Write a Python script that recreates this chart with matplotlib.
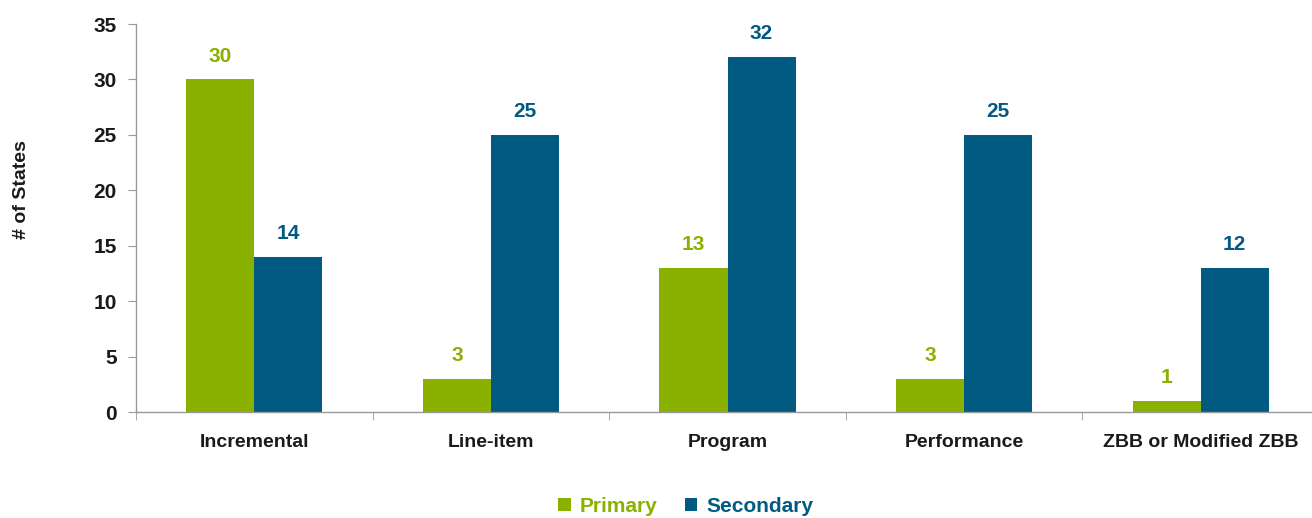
import matplotlib
matplotlib.use("Agg")
import matplotlib.pyplot as plt
from matplotlib import font_manager
import numpy as np

categories = ["Incremental", "Line-item", "Program", "Performance", "ZBB or Modified ZBB"]
primary = [30, 3, 13, 3, 1]
secondary = [14, 25, 32, 25, 13]
primary_labels = ["30", "3", "13", "3", "1"]
secondary_labels = ["14", "25", "32", "25", "12"]
yticks = [0, 5, 10, 15, 20, 25, 30, 35]

names = {f.name for f in font_manager.fontManager.ttflist}
fam = [n for n in ["Liberation Sans Narrow", "Liberation Sans", "DejaVu Sans"] if n in names]
plt.rcParams['font.family'] = fam
plt.rcParams['font.weight'] = 'bold'

GREEN = "#8AB000"
BLUE = "#005A82"
TXT = "#1a1a1a"

fig = plt.figure(figsize=(13.12, 5.18), dpi=100)
ax = fig.add_axes([136/1312, 1-412/518, 1183/1312, 388/518])

x = np.arange(len(categories))
w = 0.2875
b1 = ax.bar(x - w/2, primary, w, color=GREEN, label="Primary")
b2 = ax.bar(x + w/2, secondary, w, color=BLUE, label="Secondary")

for rect, lab in zip(b1, primary_labels):
    ax.annotate(lab, (rect.get_x()+rect.get_width()/2, rect.get_height()), xytext=(0, 10),
                textcoords="offset points", ha="center", va="bottom", color=GREEN,
                fontsize=15, fontweight="bold")
for rect, lab in zip(b2, secondary_labels):
    ax.annotate(lab, (rect.get_x()+rect.get_width()/2, rect.get_height()), xytext=(0, 10),
                textcoords="offset points", ha="center", va="bottom", color=BLUE,
                fontsize=15, fontweight="bold")

ax.set_xlim(-0.5, len(categories)-0.5)
ax.set_ylim(0, 35)
ax.set_yticks(yticks)
ax.set_yticklabels([str(t) for t in yticks], fontsize=15, fontweight="bold", color=TXT)
ax.set_xticks(x)
ax.set_xticklabels(categories, fontsize=14, fontweight="bold", color=TXT)
ax.tick_params(axis="x", length=0, pad=16)
ax.set_xticks(np.arange(len(categories)+1) - 0.5, minor=True)
ax.tick_params(axis="x", which="minor", length=6, color="#999999", direction="out")
ax.tick_params(axis="y", length=6, color="#999999", direction="out", pad=8)
for s in ["top", "right"]:
    ax.spines[s].set_visible(False)
for s in ["left", "bottom"]:
    ax.spines[s].set_color("#999999")
    ax.spines[s].set_linewidth(1)

fig.text(22/1312, 1-190/518, "# of States", rotation=90, ha="center", va="center",
         fontsize=14, fontweight="bold", color=TXT)

leg = fig.legend(handles=[b1, b2], loc="center", bbox_to_anchor=(686/1312, 1-506/518),
                 ncol=2, frameon=False, handlelength=0.6, handleheight=0.6,
                 handletextpad=0.45, columnspacing=1.3, prop={"size": 15, "weight": "bold"})
for t, c in zip(leg.get_texts(), [GREEN, BLUE]):
    t.set_color(c)

fig.savefig("out.png", dpi=100)
